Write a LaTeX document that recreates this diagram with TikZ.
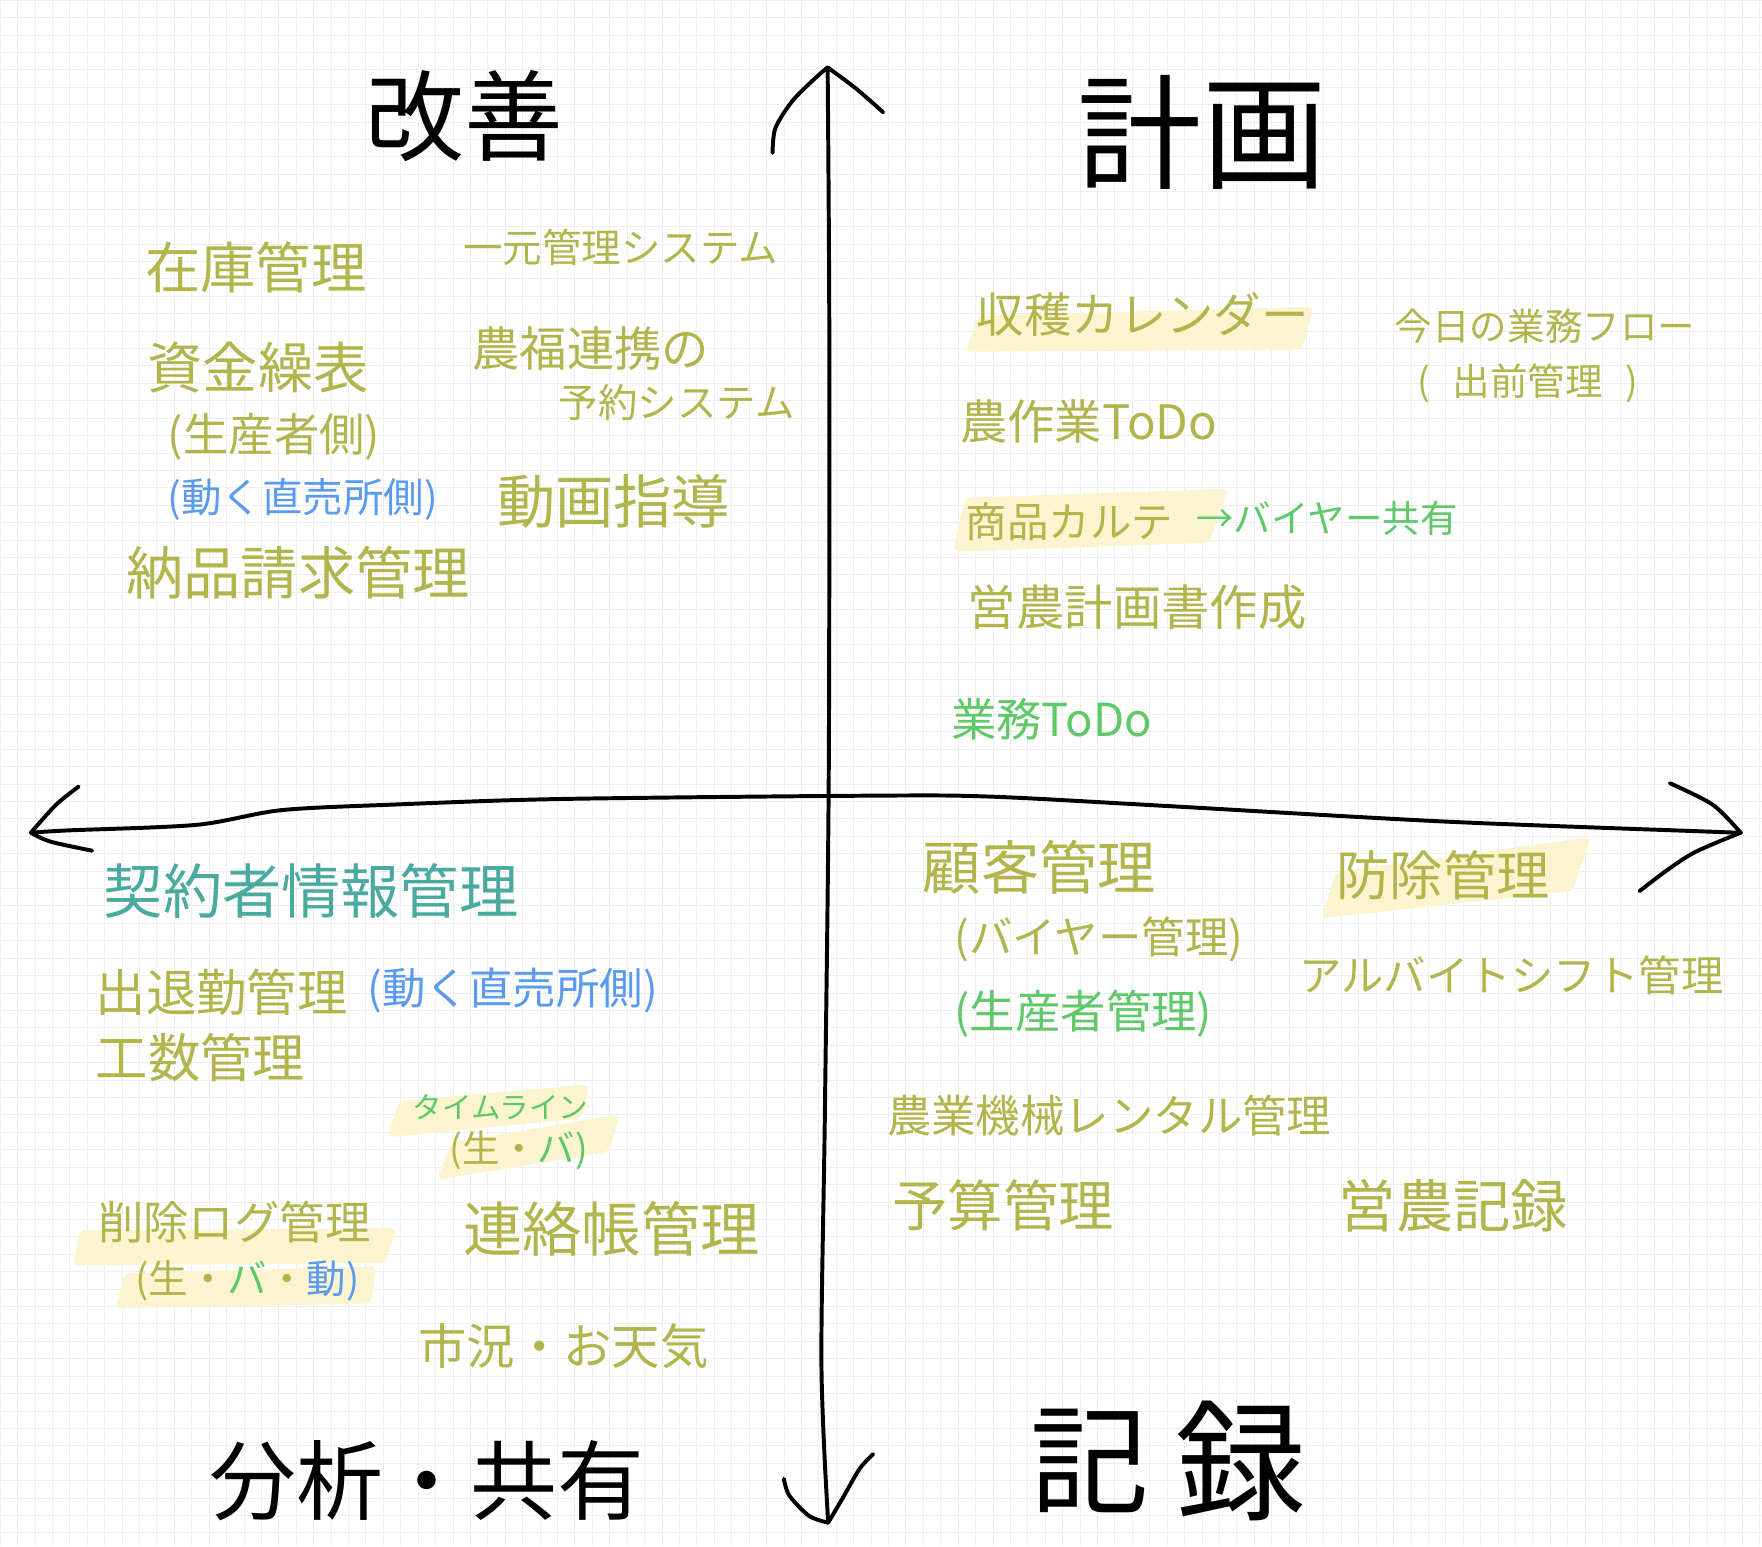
\documentclass[tikz,border=0pt]{standalone}
\usepackage{fontspec}
\setmainfont{Noto Sans CJK JP}
\definecolor{olv}{RGB}{178,180,76}
\definecolor{grn}{RGB}{95,200,105}
\definecolor{blu}{RGB}{90,155,240}
\definecolor{tea}{RGB}{75,170,160}
\definecolor{hlc}{RGB}{252,244,206}
\definecolor{gridc}{RGB}{238,238,238}
\newcommand{\fz}[1]{\fontsize{#1}{#1}\selectfont}
\tikzset{
  lbl/.style={anchor=west, inner sep=0pt, text=olv},
  ttl/.style={inner sep=0pt, text=black},
  hl/.style={fill=hlc, draw=none, rounded corners=3pt},
  ax/.style={line width=2pt, line cap=round, line join=round, draw=black},
}
\begin{document}
\begin{tikzpicture}[x=0.2mm,y=-0.2mm]
\useasboundingbox (0,0) rectangle (1568,1376);
\fill[white] (0,0) rectangle (1568,1376);
\foreach \i in {0,...,101} \draw[gridc, line width=0.3pt] (\i*15.5,0) -- (\i*15.5,1376);
\foreach \i in {0,...,88} \draw[gridc, line width=0.3pt] (0,\i*15.5) -- (1568,\i*15.5);

% highlights
\fill[hl] (859,313) -- (871,281) -- (1169,273) -- (1159,311) -- cycle;
\fill[hl] (848,491) -- (859,443) -- (1093,435) -- (1076,483) -- cycle;
\fill[hl] (1176,817) -- (1189,776) -- (1416,745) -- (1399,793) -- cycle;
\fill[hl] (345,1012) -- (355,980) -- (524,965) -- (518,995) -- cycle;
\fill[hl] (389,1050) -- (401,1017) -- (551,992) -- (542,1025) -- cycle;
\fill[hl] (65,1126) -- (71,1095) -- (353,1093) -- (343,1124) -- cycle;
\fill[hl] (103,1164) -- (111,1133) -- (335,1127) -- (330,1160) -- cycle;

% axes
\coordinate (vtop) at (736.5,60);
\coordinate (vbot) at (737,1355);
\coordinate (hleft) at (27.5,741);
\coordinate (hright) at (1549,741);
\draw[ax] plot[smooth] coordinates {(vtop) (738,300) (737.5,688) (734,995) (731,1215) (vbot)};
\draw[ax] plot[smooth] coordinates {(687.5,136) (690,114) (705,90) (725,70) (vtop)};
\draw[ax] plot[smooth] coordinates {(vtop) (762,79) (786,100)};
\draw[ax] plot[smooth] coordinates {(697.5,1316) (702.5,1331) (720,1349) (vbot)};
\draw[ax] plot[smooth] coordinates {(vbot) (750,1333) (765,1307) (777,1294)};
\draw[ax] plot[smooth] coordinates {(hleft) (60,739) (175,734) (250,721) (350,716) (500,711) (784,708) (884,709) (1034,717) (1284,731) (1519,740) (hright)};
\draw[ax] plot[smooth] coordinates {(70,700) (50,716) (hleft)};
\draw[ax] plot[smooth] coordinates {(hleft) (45,749) (82,757)};
\draw[ax] plot[smooth] coordinates {(1486,697) (1524,716) (hright)};
\draw[ax] plot[smooth] coordinates {(hright) (1509,758) (1484,774) (1459,793)};

% titles
\node[ttl, font=\fz{50}] (kaizen) at (413,103) {改善};
\node[ttl, font=\fz{63}] (keikaku) at (1070,118) {計画};
\node[ttl, font=\fz{44}] (bunseki) at (380,1318) {分析・共有};
\node[ttl, font=\fz{60}] (ki) at (970,1300) {記};
\node[ttl, font=\fz{66}] (roku) at (1104,1300) {録};

% top-left
\node[lbl, font=\fz{28}] (zaiko) at (129,238) {在庫管理};
\node[lbl, font=\fz{20}] (ichigen) at (412,220) {一元管理システム};
\node[lbl, font=\fz{28}] (shikin) at (131,327) {資金繰表};
\node[lbl, font=\fz{23}] (seisan1) at (149,389) {(生産者側)};
\node[lbl, font=\fz{20.5}, text=blu] (ugoku1) at (149,444) {(動く直売所側)};
\node[lbl, font=\fz{29}] (nohin) at (112,510) {納品請求管理};
\node[lbl, font=\fz{24}] (nofuku) at (420,310) {農福連携の};
\node[lbl, font=\fz{20}] (yoyaku) at (497,358) {予約システム};
\node[lbl, font=\fz{29.5}] (douga) at (442,446) {動画指導};

% top-right
\node[lbl, font=\fz{24}] (shukaku) at (869,280) {収穫カレンダー};
\node[lbl, font=\fz{19}] (kyou) at (1241,290) {今日の業務フロー};
\node[lbl, font=\fz{19}] (demae) at (1261,341) {(\hspace{0.6em}出前管理\hspace{0.6em})};
\node[lbl, font=\fz{24}] (nosagyo) at (854,375) {農作業ToDo};
\node[lbl, font=\fz{21}] (karte) at (859,464) {商品カルテ};
\node[lbl, font=\fz{19}, text=grn] (buyer) at (1064,461) {→バイヤー共有};
\node[lbl, font=\fz{24.5}] (einou) at (861,540) {営農計画書作成};
\node[lbl, font=\fz{23}, text=grn] (gyomu) at (846,640) {業務ToDo};

% bottom-left
\node[lbl, font=\fz{30}, text=tea] (keiyaku) at (92,793) {契約者情報管理};
\node[lbl, font=\fz{25.5}] (shuttai) at (85,883) {出退勤管理};
\node[lbl, font=\fz{22}, text=blu] (ugoku2) at (327,881) {(動く直売所側)};
\node[lbl, font=\fz{26.5}] (kosu) at (85,941) {工数管理};
\node[lbl, font=\fz{15}, text=grn] (timeline) at (367,985) {タイムライン};
\node[lbl, font=\fz{19}] (tlsub) at (400,1024) {(生・\textcolor{grn}{バ)}};
\node[lbl, font=\fz{23}] (sakujo) at (87,1088) {削除ログ管理};
\node[lbl, font=\fz{20}] (sakusub) at (120,1140) {(生・\textcolor{grn}{バ}・\textcolor{blu}{動)}};
\node[lbl, font=\fz{30}] (renraku) at (412,1094) {連絡帳管理};
\node[lbl, font=\fz{24.5}] (shikyo) at (372,1198) {市況・お天気};

% bottom-right
\node[lbl, font=\fz{29.5}] (kokyaku) at (821,772) {顧客管理};
\node[lbl, font=\fz{22}] (buyerk) at (849,836) {(バイヤー管理)};
\node[lbl, font=\fz{23}, text=grn] (seisank) at (849,902) {(生産者管理)};
\node[lbl, font=\fz{27}] (bojo) at (1189,779) {防除管理};
\node[lbl, font=\fz{21.5}] (arubaito) at (1156,868) {アルバイトシフト管理};
\node[lbl, font=\fz{22.5}] (kikai) at (789,993) {農業機械レンタル管理};
\node[lbl, font=\fz{28}] (yosan) at (794,1073) {予算管理};
\node[lbl, font=\fz{29}] (kiroku) at (1191,1073) {営農記録};
\end{tikzpicture}
\end{document}
